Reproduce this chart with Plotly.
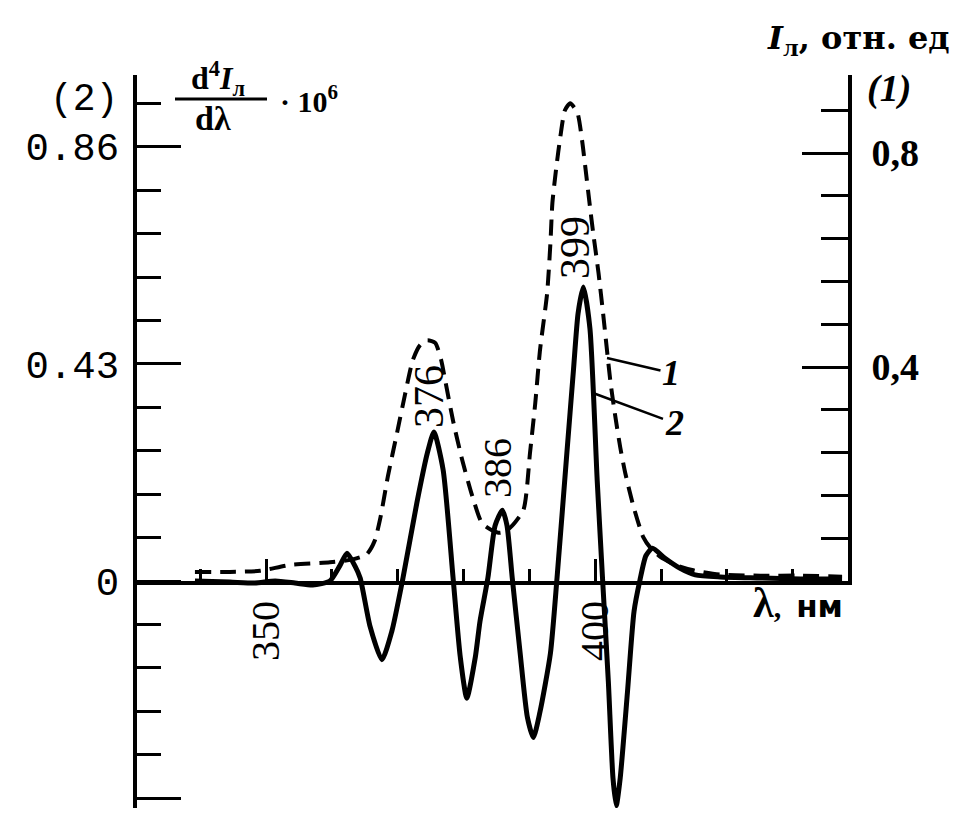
import plotly.graph_objects as go

# ---------------- data ----------------
# Curve 1 (dashed): I_л, relative units (right axis)
LAMBDA_1 = [339.2, 344.5, 349.1, 353.6, 359.7, 363.0, 365.3, 366.5, 367.4, 368.5,
            369.9, 371.1, 372.3, 373.4, 374.5, 375.7, 376.6, 377.2, 378.4, 379.8,
            381.3, 382.8, 384.3, 385.6, 387.1, 389.1, 390.1, 390.9, 391.6, 392.7,
            393.2, 393.5, 394.1, 394.7, 395.4, 396.2, 397.3, 398.0, 398.6, 399.2,
            399.7, 400.5, 401.2, 402.3, 403.0, 403.8, 404.6, 405.8, 407.3, 408.4,
            409.9, 412.2, 414.9, 419.0, 425.1, 431.2, 437.5]
I_1 = [0.017, 0.017, 0.019, 0.030, 0.035, 0.040, 0.050, 0.075, 0.120, 0.195,
       0.277, 0.348, 0.413, 0.441, 0.450, 0.445, 0.413, 0.376, 0.300, 0.226,
       0.160, 0.108, 0.095, 0.090, 0.100, 0.133, 0.240, 0.333, 0.430, 0.538,
       0.632, 0.707, 0.774, 0.830, 0.880, 0.893, 0.875, 0.824, 0.763, 0.700,
       0.650, 0.576, 0.500, 0.374, 0.312, 0.250, 0.200, 0.140, 0.082, 0.062,
       0.045, 0.030, 0.020, 0.012, 0.010, 0.010, 0.008]

# Curve 2 (solid): fourth derivative d4I/dλ4 ·10^6 (left axis)
LAMBDA_2 = [339.2, 344.5, 348.3, 351.4, 354.4, 357.1, 359.7, 361.2, 362.3, 363.5,
            364.3, 365.8, 367.6, 369.1, 370.8, 372.9, 374.5, 375.5, 376.9, 378.4,
            379.5, 380.5, 381.8, 382.5, 383.7, 384.8, 385.9, 386.6, 387.4, 388.6,
            389.7, 390.6, 391.6, 393.2, 394.2, 395.7, 396.7, 397.4, 398.2, 399.2,
            400.3, 401.1, 402.0, 402.7, 403.2, 403.8, 404.9, 405.9, 406.8, 407.7,
            408.7, 410.6, 412.9, 415.2, 419.0, 425.1, 431.2, 437.5]
D4_2 = [0.000, -0.002, -0.004, 0.000, -0.004, -0.008, 0.000, 0.030, 0.055, 0.030,
        0.006, -0.090, -0.156, -0.100, 0.006, 0.154, 0.253, 0.295, 0.220, 0.008,
        -0.150, -0.232, -0.150, -0.080, 0.006, 0.110, 0.140, 0.110, 0.006, -0.143,
        -0.270, -0.310, -0.260, -0.143, 0.006, 0.254, 0.418, 0.530, 0.582, 0.500,
        0.200, 0.008, -0.200, -0.390, -0.445, -0.390, -0.220, -0.060, 0.002, 0.050,
        0.065, 0.045, 0.025, 0.012, 0.008, 0.006, 0.004, 0.004]

# axis ticks and labels
X_RANGE = [330.4, 438.4]
LEFT_RANGE = [-0.4495, 1.002]
RIGHT_RANGE = [0.0, 0.9458]
LEFT_TICKS = [-0.43, 0.0, 0.43, 0.86]
LEFT_TICKTEXT = ["\u22120.43", "0", "0.43", "0.86"]
LEFT_MINOR = [-0.344, -0.258, -0.172, -0.086, 0.086, 0.172, 0.258, 0.344,
              0.516, 0.602, 0.688, 0.774, 0.946]
RIGHT_TICKS = [0.4, 0.8]
RIGHT_TICKTEXT = ["0,4", "0,8"]
RIGHT_MINOR = [0.08, 0.16, 0.24, 0.32, 0.48, 0.56, 0.64, 0.72, 0.88]
PEAK_LABELS = ["376", "386", "399"]

# ---------------- layout helpers (pixel -> paper) ----------------
L, R, T, B = 137, 108, 75, 8
W, H = 956, 816
PW, PH = W - L - R, H - T - B


def px(x):
    return (x - L) / PW


def py(y):
    return (H - B - y) / PH


Y2_BOTTOM = py(581)

fig = go.Figure()
fig.add_trace(go.Scatter(
    x=LAMBDA_1, y=I_1, mode="lines", xaxis="x", yaxis="y2",
    line=dict(color="black", width=4, dash="16px,9px", shape="spline", smoothing=0.6),
    showlegend=False, hoverinfo="skip"))
fig.add_trace(go.Scatter(
    x=LAMBDA_2, y=D4_2, mode="lines", xaxis="x", yaxis="y",
    line=dict(color="black", width=5, shape="spline", smoothing=0.6),
    showlegend=False, hoverinfo="skip"))

serif = "Liberation Serif"
mono = "Liberation Mono"

fig.update_layout(
    width=W, height=H,
    margin=dict(l=L, r=R, t=T, b=B, pad=0),
    paper_bgcolor="white", plot_bgcolor="rgba(0,0,0,0)",
    showlegend=False,
    xaxis=dict(
        range=X_RANGE, anchor="y2", showgrid=False, zeroline=False,
        showline=True, linecolor="black", linewidth=4,
        ticks="inside", ticklen=22, tickwidth=3, tickcolor="black",
        tickmode="array", tickvals=[350, 400], ticktext=["350", "400"],
        tickangle=-90, ticklabelstandoff=0,
        tickfont=dict(family=serif, size=40, color="black"),
        minor=dict(tickmode="linear", tick0=350, dtick=10, ticks="inside",
                   ticklen=12, tickwidth=3, tickcolor="black", showgrid=False),
    ),
    yaxis=dict(
        range=LEFT_RANGE, anchor="x", side="left", showgrid=False, zeroline=False,
        showline=True, linecolor="black", linewidth=4,
        ticks="inside", ticklen=44, tickwidth=3, tickcolor="black",
        tickmode="array", tickvals=LEFT_TICKS, ticktext=LEFT_TICKTEXT,
        ticklabelstandoff=6,
        tickfont=dict(family=mono, size=39, color="black"),
        minor=dict(tickmode="array", tickvals=LEFT_MINOR, ticks="inside",
                   ticklen=24, tickwidth=3, tickcolor="black", showgrid=False),
    ),
    yaxis2=dict(
        range=RIGHT_RANGE, domain=[Y2_BOTTOM, 1], anchor="x", side="right",
        showgrid=False, zeroline=False,
        showline=True, linecolor="black", linewidth=4,
        ticks="inside", ticklen=46, tickwidth=3, tickcolor="black",
        tickmode="array", tickvals=RIGHT_TICKS, ticktext=RIGHT_TICKTEXT,
        ticklabelstandoff=12,
        tickfont=dict(family=serif, size=38, color="black", weight="bold"),
        minor=dict(tickmode="array", tickvals=RIGHT_MINOR, ticks="inside",
                   ticklen=27, tickwidth=3, tickcolor="black", showgrid=False),
    ),
)

ann = []


def text(x, y, s, size, family=serif, xanchor="center", angle=0, weight="normal",
         style="normal"):
    ann.append(dict(x=px(x), y=py(y), xref="paper", yref="paper", text=s,
                    showarrow=False, xanchor=xanchor, yanchor="middle",
                    textangle=angle,
                    font=dict(family=family, size=size, color="black",
                              weight=weight, style=style)))


# left axis title (fraction)
text(218, 78, "d<sup>4</sup><i>I</i><sub>л</sub>", 32, weight="bold")
text(213, 118, "dλ", 34, weight="bold")
text(278, 99, "· 10<sup>6</sup>", 30, xanchor="left", weight="bold")
text(84, 99, "(2)", 38, family=mono)
# right axis title
text(952, 40, "<i>I</i><sub>л</sub>, отн. ед", 32, family="DejaVu Serif",
     xanchor="right", weight="bold")
text(889, 88, "(1)", 38, weight="bold", style="italic")
# x axis title
text(798, 603, "<span style='font-size:42px'>λ</span>,  "
     "<span style='font-family:DejaVu Sans;font-size:31px'>нм</span>", 30,
     weight="bold")
# peak labels
text(429, 397, PEAK_LABELS[0], 42, angle=-90)
text(497, 468, PEAK_LABELS[1], 40, angle=-90)
text(575, 248, PEAK_LABELS[2], 42, angle=-90)

# curve labels with leader lines
for tip, lab, label in [((607, 358), (671, 373), "1"), ((593, 393), (674, 423), "2")]:
    ann.append(dict(x=px(tip[0]), y=py(tip[1]), xref="paper", yref="paper",
                    text=label, showarrow=True, arrowhead=0, arrowwidth=2.5,
                    arrowcolor="black", ax=lab[0] - tip[0], ay=lab[1] - tip[1],
                    standoff=0,
                    font=dict(family=serif, size=36, color="black",
                              style="italic", weight="bold")))

fig.update_layout(annotations=ann)
fig.add_shape(type="line", xref="paper", yref="paper",
              x0=px(175), x1=px(267), y0=py(99), y1=py(99),
              line=dict(color="black", width=3))

fig.write_html("out.html")
